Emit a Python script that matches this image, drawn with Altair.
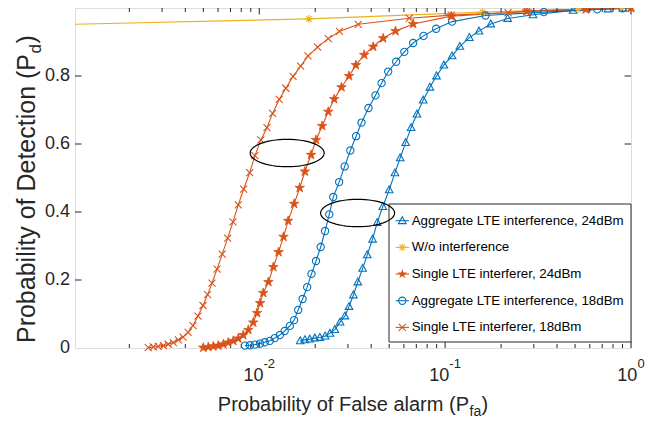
import math
import altair as alt
import pandas as pd

# ------------------------------------------------------------------ data
series_names = [
    "Aggregate LTE interference, 24dBm",
    "W/o interference",
    "Single LTE interferer, 24dBm",
    "Aggregate LTE interference, 18dBm",
    "Single LTE interferer, 18dBm",
]

# Aggregate LTE interference, 24dBm (triangles)
pfa_a24 = [0.0166, 0.0176, 0.0187, 0.0199, 0.0212, 0.0226, 0.0240, 0.0255, 0.0272, 0.0289,
           0.0304, 0.0321, 0.0339, 0.0360, 0.0381, 0.0407, 0.0431, 0.0462, 0.0500, 0.0537,
           0.0573, 0.0613, 0.0656, 0.0705, 0.0762, 0.0828, 0.0899, 0.0984, 0.109, 0.120,
           0.135, 0.152, 0.176, 0.217, 0.297, 0.488, 0.752, 0.906]
pd_a24 = [0.021, 0.024, 0.026, 0.029, 0.031, 0.035, 0.043, 0.054, 0.076, 0.094,
          0.122, 0.156, 0.194, 0.234, 0.274, 0.320, 0.369, 0.416, 0.465, 0.515,
          0.559, 0.604, 0.648, 0.688, 0.729, 0.767, 0.800, 0.832, 0.859, 0.887,
          0.913, 0.932, 0.953, 0.969, 0.980, 0.993, 0.997, 0.999]

# W/o interference (asterisks)
pfa_wo = [0.001, 0.0185, 0.159, 0.519, 0.888]
pd_wo = [0.952, 0.968, 0.988, 0.996, 0.9995]

# Single LTE interferer, 24dBm (stars)
pfa_s24 = [0.00500, 0.00532, 0.00566, 0.00602, 0.00641, 0.00681, 0.00725, 0.00771, 0.00820, 0.00873,
           0.00928, 0.00972, 0.0101, 0.0105, 0.0112, 0.0119, 0.0127, 0.0135, 0.0143, 0.0154,
           0.0165, 0.0176, 0.0190, 0.0202, 0.0218, 0.0235, 0.0253, 0.0277, 0.0304, 0.0331,
           0.0367, 0.0410, 0.0464, 0.0541, 0.0673, 0.108, 0.275, 0.571, 1.0]
pd_s24 = [0.001, 0.003, 0.005, 0.007, 0.011, 0.016, 0.021, 0.028, 0.038, 0.053,
          0.075, 0.103, 0.132, 0.162, 0.194, 0.238, 0.282, 0.327, 0.374, 0.424,
          0.471, 0.519, 0.568, 0.612, 0.653, 0.695, 0.732, 0.767, 0.800, 0.832,
          0.862, 0.886, 0.911, 0.932, 0.953, 0.976, 0.990, 0.996, 1.0]

# Aggregate LTE interference, 18dBm (circles)
pfa_a18 = [0.00838, 0.00891, 0.00948, 0.0101, 0.0107, 0.0114, 0.0121, 0.0129, 0.0137, 0.0146,
           0.0154, 0.0162, 0.0171, 0.0181, 0.0191, 0.0202, 0.0214, 0.0226, 0.0238, 0.0250,
           0.0269, 0.0288, 0.0309, 0.0332, 0.0355, 0.0387, 0.0422, 0.0455, 0.0494, 0.0545,
           0.0603, 0.0673, 0.0765, 0.0895, 0.109, 0.165, 0.340, 0.658, 0.899]
pd_a18 = [0.007, 0.008, 0.010, 0.013, 0.017, 0.021, 0.029, 0.038, 0.050, 0.065,
          0.082, 0.112, 0.144, 0.179, 0.218, 0.256, 0.297, 0.344, 0.393, 0.444,
          0.488, 0.534, 0.581, 0.623, 0.663, 0.706, 0.743, 0.779, 0.813, 0.842,
          0.871, 0.897, 0.918, 0.939, 0.960, 0.978, 0.988, 0.996, 0.999]

# Single LTE interferer, 18dBm (x marks)
pfa_s18 = [0.00253, 0.00269, 0.00286, 0.00305, 0.00324, 0.00345, 0.00367, 0.00389, 0.00414, 0.00440,
           0.00468, 0.00498, 0.00527, 0.00557, 0.00593, 0.00632, 0.00676, 0.00722, 0.00771, 0.00824,
           0.00888, 0.00948, 0.0102, 0.0110, 0.0118, 0.0128, 0.0139, 0.0152, 0.0167, 0.0183,
           0.0206, 0.0235, 0.0270, 0.0341, 0.0641, 0.108, 0.218, 0.275, 0.576, 1.0]
pd_s18 = [0.001, 0.003, 0.005, 0.007, 0.011, 0.016, 0.024, 0.032, 0.046, 0.066,
          0.094, 0.125, 0.157, 0.191, 0.232, 0.276, 0.323, 0.371, 0.421, 0.467,
          0.516, 0.566, 0.612, 0.648, 0.690, 0.731, 0.764, 0.799, 0.829, 0.859,
          0.885, 0.910, 0.931, 0.952, 0.970, 0.979, 0.986, 0.991, 0.997, 1.0]

x_minor_ticks = [0.002, 0.003, 0.004, 0.005, 0.006, 0.007, 0.008, 0.009,
                 0.02, 0.03, 0.04, 0.05, 0.06, 0.07, 0.08, 0.09,
                 0.2, 0.3, 0.4, 0.5, 0.6, 0.7, 0.8, 0.9]
x_major_ticks = [0.01, 0.1, 1.0]
x_major_exp = ["-2", "-1", "0"]
y_tick_values = [0.0, 0.2, 0.4, 0.6, 0.8]
y_tick_labels = ["0", "0.2", "0.4", "0.6", "0.8"]

ellipse_pfa = [0.01413, 0.03381]
ellipse_pd = [0.5735, 0.397]

x_title = "Probability of False alarm (P"
x_title_sub = "fa"
y_title = "Probability of Detection (P"
y_title_sub = "d"

x_domain = [0.00102, 1.0]
y_domain = [0.0, 1.0]

# ------------------------------------------------------------------ style
W, H = 556, 340
FONT = "Liberation Sans"
AX = "#262626"
colors = ["#0072BD", "#EDB120", "#D95319", "#0072BD", "#D95319"]
TRI = "M0,-1L0.95,0.72L-0.95,0.72Z"
AST = "M0,-1L0,1M-1,0L1,0M-0.7,-0.7L0.7,0.7M-0.7,0.7L0.7,-0.7"
STAR = ("M0,-1L0.2245,-0.309L0.951,-0.309L0.363,0.118L0.588,0.809L0,0.382"
        "L-0.588,0.809L-0.363,0.118L-0.951,-0.309L-0.2245,-0.309Z")
XM = "M-1,-1L1,1M-1,1L1,-1"
shapes = [TRI, AST, STAR, "circle", XM]
sizes = [64, 49, 100, 46, 30]
ELL = "M" + "L".join(
    f"{math.cos(2 * math.pi * k / 60):.4f},{0.37 * math.sin(2 * math.pi * k / 60):.4f}"
    for k in range(60)) + "Z"

star_name = series_names[2]

rows = []
for name, (xv, yv) in zip(series_names, [(pfa_a24, pd_a24), (pfa_wo, pd_wo), (pfa_s24, pd_s24),
                                         (pfa_a18, pd_a18), (pfa_s18, pd_s18)]):
    for a, b in zip(xv, yv):
        rows.append({"series": name, "pfa": a, "pd": b})
df = pd.DataFrame(rows)

xs = alt.Scale(type="log", domain=x_domain, nice=False)
ys = alt.Scale(type="linear", domain=y_domain, nice=False, zero=False)
color_scale = alt.Scale(domain=series_names, range=colors)
shape_scale = alt.Scale(domain=series_names, range=shapes)
size_scale = alt.Scale(domain=series_names, range=sizes)

X = alt.X("pfa:Q", scale=xs, axis=None)
Y = alt.Y("pd:Q", scale=ys, axis=None)
C = alt.Color("series:N", scale=color_scale, legend=None)

lines = alt.Chart(df).mark_line(clip=True, strokeWidth=1.1).encode(x=X, y=Y, color=C)

pts = alt.Chart(df).transform_filter(
    f"datum.pfa >= {x_domain[0]} && datum.series != '{star_name}'"
).mark_point(filled=False, strokeWidth=1.1, opacity=1).encode(
    x=X, y=Y, color=C,
    shape=alt.Shape("series:N", scale=shape_scale, legend=None),
    size=alt.Size("series:O", scale=size_scale, legend=None))

stars = alt.Chart(df).transform_filter(f"datum.series == '{star_name}'").mark_point(
    filled=True, shape=STAR, size=100, opacity=1, strokeWidth=0.8, stroke=colors[2]
).encode(x=X, y=Y, color=C)

# ticks (inside, all four sides)
def xticks(vals, top, length):
    y0 = 0 if top else H
    y1 = length if top else H - length
    return alt.Chart(pd.DataFrame({"pfa": vals})).mark_rule(color=AX, strokeWidth=1).encode(
        x=X, y=alt.value(y0), y2=alt.value(y1))

def yticks(right, length):
    x0 = W if right else 0
    x1 = W - length if right else length
    return alt.Chart(pd.DataFrame({"pd": y_tick_values[1:]})).mark_rule(color=AX, strokeWidth=1).encode(
        y=Y, x=alt.value(x0), x2=alt.value(x1))

tick_layers = [xticks(x_major_ticks, False, 6.5), xticks(x_minor_ticks, False, 4),
               xticks(x_major_ticks, True, 6.5), xticks(x_minor_ticks, True, 4),
               yticks(False, 6.5), yticks(True, 6.5)]

# y tick labels
ylab = alt.Chart(pd.DataFrame({"pd": y_tick_values, "t": y_tick_labels})).mark_text(
    align="right", baseline="middle", fontSize=18, font=FONT, color=AX).encode(
    x=alt.value(-5), y=Y, text="t:N")

# x tick labels 10^n
label_layers = [ylab]
for v, e in zip(x_major_ticks, x_major_exp):
    we = 13 * (0.333 * e.count("-") + 0.556 * (len(e) - e.count("-")))
    off = 10 - we / 2
    d = pd.DataFrame({"pfa": [v], "t": ["10"], "e": [e]})
    label_layers.append(alt.Chart(d).mark_text(align="right", baseline="alphabetic", fontSize=18,
                                               font=FONT, color=AX, dx=off).encode(
        x=X, y=alt.value(H + 32.7), text="t:N"))
    label_layers.append(alt.Chart(d).mark_text(align="left", baseline="alphabetic", fontSize=13,
                                               font=FONT, color=AX, dx=off).encode(
        x=X, y=alt.value(H + 20), text="e:N"))

# axis titles with subscripts
XT_END, XT_BASE = 394, 403
YT_END, YT_BASE = 46, -40
t1 = pd.DataFrame({"t": [x_title], "s": [x_title_sub], "c": [")"]})
t2 = pd.DataFrame({"t": [y_title], "s": [y_title_sub], "c": [")"]})
title_layers = [
    alt.Chart(t1).mark_text(align="right", baseline="alphabetic", fontSize=20, font=FONT, color=AX)
    .encode(x=alt.value(XT_END), y=alt.value(XT_BASE), text="t:N"),
    alt.Chart(t1).mark_text(align="left", baseline="alphabetic", fontSize=14, font=FONT, color=AX)
    .encode(x=alt.value(XT_END + 0.5), y=alt.value(XT_BASE + 5), text="s:N"),
    alt.Chart(t1).mark_text(align="left", baseline="alphabetic", fontSize=20, font=FONT, color=AX)
    .encode(x=alt.value(XT_END + 12.5), y=alt.value(XT_BASE), text="c:N"),
    alt.Chart(t2).mark_text(align="right", baseline="alphabetic", fontSize=25, font=FONT, color=AX, angle=270)
    .encode(x=alt.value(YT_BASE), y=alt.value(YT_END), text="t:N"),
    alt.Chart(t2).mark_text(align="left", baseline="alphabetic", fontSize=17, font=FONT, color=AX, angle=270)
    .encode(x=alt.value(YT_BASE + 6), y=alt.value(YT_END - 0.5), text="s:N"),
    alt.Chart(t2).mark_text(align="left", baseline="alphabetic", fontSize=25, font=FONT, color=AX, angle=270)
    .encode(x=alt.value(YT_BASE), y=alt.value(YT_END - 10.5), text="c:N"),
]

# legend
leg_rows = pd.DataFrame({"series": series_names,
                         "pd": [1 - (212.7 + 26.67 * i) / H for i in range(len(series_names))]})
leg_box = alt.Chart(pd.DataFrame({"a": [0]})).mark_rect(fill="white", stroke=AX, strokeWidth=1).encode(
    x=alt.value(314), x2=alt.value(556), y=alt.value(196), y2=alt.value(334))
leg_lines = alt.Chart(leg_rows).mark_rule(strokeWidth=1.1).encode(
    x=alt.value(320.7), x2=alt.value(334), y=Y, color=C)
leg_pts = alt.Chart(leg_rows).transform_filter(f"datum.series != '{star_name}'").mark_point(
    filled=False, strokeWidth=1.1, opacity=1).encode(
    x=alt.value(327.3), y=Y, color=C,
    shape=alt.Shape("series:N", scale=shape_scale, legend=None),
    size=alt.Size("series:O", scale=size_scale, legend=None))
leg_star = alt.Chart(leg_rows).transform_filter(f"datum.series == '{star_name}'").mark_point(
    filled=True, shape=STAR, size=100, opacity=1).encode(x=alt.value(327.3), y=Y, color=C)
leg_text = alt.Chart(leg_rows).mark_text(align="left", baseline="middle", fontSize=13.3, font=FONT,
                                         color="black").encode(
    x=alt.value(336.7), y=Y, text="series:N")

ellipses = alt.Chart(pd.DataFrame({"pfa": ellipse_pfa, "pd": ellipse_pd})).mark_point(
    shape=ELL, size=74 * 74, filled=False, color="black", strokeWidth=1.2, opacity=1).encode(x=X, y=Y)

chart = alt.layer(
    lines, *tick_layers, pts, stars, *label_layers, *title_layers,
    leg_box, leg_lines, leg_pts, leg_star, leg_text, ellipses,
).properties(
    width=W, height=H,
    autosize=alt.AutoSizeParams(type="none"),
    padding={"left": 67, "top": 0, "right": 27, "bottom": 70},
).configure_view(stroke=AX, strokeWidth=1).configure(background="white")

chart.save("out.html", embed_options={"renderer": "svg", "actions": False})
